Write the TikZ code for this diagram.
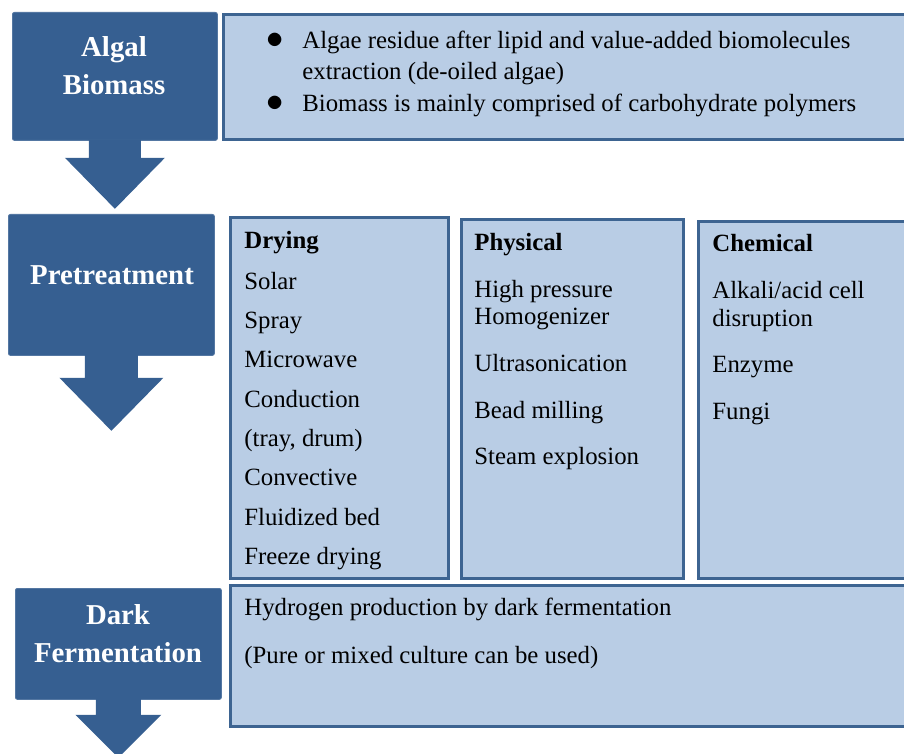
\documentclass[tikz,border=0pt]{standalone}
\usepackage{fontspec}
\setmainfont{Liberation Serif}
\usepackage{tikz}
\usetikzlibrary{calc}
\usepackage{xcolor}
\definecolor{stageblue}{HTML}{365F91}
\definecolor{panelfill}{HTML}{B9CDE5}
\definecolor{panelline}{HTML}{3D6491}

\begin{document}
\begin{tikzpicture}[
    x=0.5pt, y=-0.5pt,
    stage/.style={rectangle,fill=stageblue,draw=stageblue!85!white,line width=0.4pt,rounded corners=1pt,anchor=north west,inner sep=0pt},
    stagetext/.style={white,inner sep=0pt,align=center,font=\fontsize{14.4}{19}\selectfont\bfseries},
    panel/.style={rectangle,fill=panelfill,draw=panelline,line width=1.5pt,anchor=north west,inner sep=0pt},
    entry/.style={anchor=base west,inner sep=0pt,font=\fontsize{12.4}{15}\selectfont},
    entryhead/.style={entry,font=\fontsize{12.4}{15}\selectfont\bfseries},
    bulletmark/.style={inner sep=0pt,font=\fontsize{16}{16}\selectfont},
    blockarrow/.style={fill=stageblue}
]
\clip (0,0) rectangle (904,754);

% Stage boxes on the left
\node[stage,minimum width=102.5pt,minimum height=64pt] (alg) at (12,12) {};
\node[stage,minimum width=103pt,minimum height=70.5pt] (pre) at (8,214) {};
\node[stage,minimum width=103pt,minimum height=55.5pt] (dark) at (15,588) {};
\node[stagetext] (algtxt) at (114,66) {Algal\\Biomass};
\node[stagetext] (pretxt) at (112,275) {Pretreatment};
\node[stagetext] (darktxt) at (118,634) {Dark\\Fermentation};

% Block arrows below the stages
\fill[blockarrow] ($(alg.south)+(-26,-1)$) -- ($(alg.south)+(-26,17)$) -- ($(alg.south)+(-50,17)$)
    -- ($(alg.south)+(0,68)$) -- ($(alg.south)+(50,17)$) -- ($(alg.south)+(26,17)$) -- ($(alg.south)+(26,-1)$) -- cycle;
\fill[blockarrow] ($(pre.south)+(-26.5,-1)$) -- ($(pre.south)+(-26.5,22)$) -- ($(pre.south)+(-52,22)$)
    -- ($(pre.south)+(0,75)$) -- ($(pre.south)+(52,22)$) -- ($(pre.south)+(26.5,22)$) -- ($(pre.south)+(26.5,-1)$) -- cycle;
\fill[blockarrow] ($(dark.south)+(-22.5,-1)$) -- ($(dark.south)+(-22.5,15)$) -- ($(dark.south)+(-43,15)$)
    -- ($(dark.south)+(0,58)$) -- ($(dark.south)+(43,15)$) -- ($(dark.south)+(22.5,15)$) -- ($(dark.south)+(22.5,-1)$) -- cycle;

% Panels on the right
\node[panel,minimum width=344pt,minimum height=62.5pt] (biomass) at (222,13) {};
\node[panel,minimum width=109pt,minimum height=180.5pt] (drying) at (229,216) {};
\node[panel,minimum width=111pt,minimum height=179.5pt] (physical) at (460,218) {};
\node[panel,minimum width=106.5pt,minimum height=178.5pt] (chemical) at (697,220) {};
\node[panel,minimum width=340.5pt,minimum height=70.5pt] (hydrogen) at (229,584) {};

% Biomass description
\node[bulletmark] (bul1) at (275,41) {$\bullet$};
\node[bulletmark] (bul2) at (275,104) {$\bullet$};
\node[entry] (bio1) at (302,49) {Algae residue after lipid and value-added biomolecules};
\node[entry] (bio2) at (302,80) {extraction (de-oiled algae)};
\node[entry] (bio3) at (302,112) {Biomass is mainly comprised of carbohydrate polymers};

% Drying methods
\node[entryhead] (dry0) at (244,249) {Drying};
\node[entry] (dry1) at (244,289) {Solar};
\node[entry] (dry2) at (244,328) {Spray};
\node[entry] (dry3) at (244,367) {Microwave};
\node[entry] (dry4) at (244,407) {Conduction};
\node[entry] (dry5) at (244,446) {(tray, drum)};
\node[entry] (dry6) at (244,485) {Convective};
\node[entry] (dry7) at (244,525) {Fluidized bed};
\node[entry] (dry8) at (244,564) {Freeze drying};

% Physical methods
\node[entryhead] (phys0) at (474,250) {Physical};
\node[entry] (phys1) at (474,297) {High pressure};
\node[entry] (phys2) at (474,324) {Homogenizer};
\node[entry] (phys3) at (474,371) {Ultrasonication};
\node[entry] (phys4) at (474,418) {Bead milling};
\node[entry] (phys5) at (474,464) {Steam explosion};

% Chemical methods
\node[entryhead] (chem0) at (712,251) {Chemical};
\node[entry] (chem1) at (712,298) {Alkali/acid cell};
\node[entry] (chem2) at (712,326) {disruption};
\node[entry] (chem3) at (712,372) {Enzyme};
\node[entry] (chem4) at (712,419) {Fungi};

% Dark fermentation
\node[entry] (hyd1) at (244,615) {Hydrogen production by dark fermentation};
\node[entry] (hyd2) at (244,663) {(Pure or mixed culture can be used)};
\end{tikzpicture}
\end{document}
